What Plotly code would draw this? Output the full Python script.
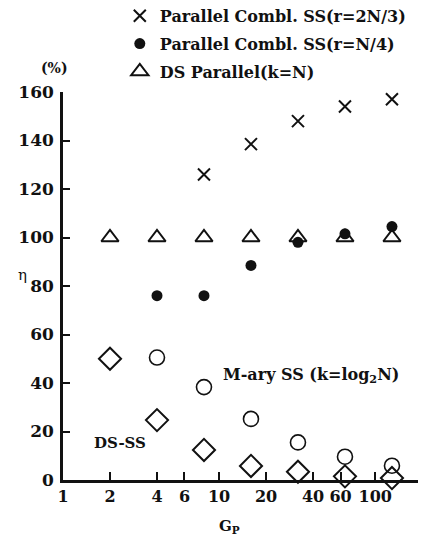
import plotly.graph_objects as go

# x positions (processing gain Gp)
gp_x = [8, 16, 32, 64, 128]
par_23 = [126, 138.5, 148, 154, 157]          # × Parallel Combl. SS(r=2N/3)

gp_dot = [4, 8, 16, 32, 64, 128]
par_14 = [76, 76, 88.5, 98, 101.5, 104.5]     # ● Parallel Combl. SS(r=N/4)

gp_tri = [2, 4, 8, 16, 32, 64, 128]
ds_par = [100, 100, 100, 100, 100, 100, 100]  # △ DS Parallel(k=N)

gp_mary = [4, 8, 16, 32, 64, 128]
mary = [50.5, 38.3, 25.2, 15.5, 9.6, 5.9]      # ○ M-ary SS

gp_ds = [2, 4, 8, 16, 32, 64, 128]
dsss = [50, 24.7, 12.4, 5.8, 3.4, 1.5, 0.8]    # ◇ DS-SS

x_tickvals = [1, 2, 4, 6, 10, 20, 40, 60, 100]
x_ticktext = ["1", "2", "4", "6", "10", "20", "40", "60", "100"]
y_tickvals = [0, 20, 40, 60, 80, 100, 120, 140, 160]

FONT = "DejaVu Serif"
BLACK = "#111111"

fig = go.Figure()
fig.add_trace(go.Scatter(x=gp_x, y=par_23, mode="markers", name="Parallel Combl. SS(r=2N/3)",
                         legendgroup="a",
                         marker=dict(symbol="x-thin-open", size=12, color=BLACK,
                                     line=dict(width=2, color=BLACK))))
fig.add_trace(go.Scatter(x=gp_dot, y=par_14, mode="markers", name="Parallel Combl. SS(r=N/4)",
                         legendgroup="b",
                         marker=dict(symbol="circle", size=11, color=BLACK)))
fig.add_trace(go.Scatter(x=gp_tri, y=ds_par, mode="markers", name="DS Parallel(k=N)",
                         legendgroup="c",
                         marker=dict(symbol="triangle-up-open", size=15, color=BLACK,
                                     line=dict(width=2, color=BLACK))))
fig.add_trace(go.Scatter(x=gp_mary, y=mary, mode="markers", showlegend=False,
                         marker=dict(symbol="circle-open", size=15, color=BLACK,
                                     line=dict(width=1.6, color=BLACK))))
fig.add_trace(go.Scatter(x=gp_ds, y=dsss, mode="markers", showlegend=False,
                         marker=dict(symbol="diamond-open", size=17, color=BLACK,
                                     line=dict(width=2, color=BLACK))))

fig.update_traces(cliponaxis=False)

fig.update_layout(
    width=425, height=529,
    margin=dict(l=55, r=15, t=84, b=57, autoexpand=False),
    paper_bgcolor="white", plot_bgcolor="white",
    font=dict(family=FONT, size=15, color=BLACK, weight="bold"),
    showlegend=True,
    legend=dict(x=0.16, y=1.24, xanchor="left", yanchor="top",
                traceorder="grouped", tracegroupgap=4,
                font=dict(family=FONT, size=16, color=BLACK, weight="bold"),
                bgcolor="rgba(0,0,0,0)", itemwidth=30),
    xaxis=dict(type="log", range=[0, 2.274], tickvals=x_tickvals, ticktext=x_ticktext,
               ticks="inside", ticklen=8, tickwidth=1.5, tickcolor=BLACK,
               showline=True, linecolor=BLACK, linewidth=2.5,
               showgrid=False, zeroline=False,
               tickfont=dict(family=FONT, size=16, weight="bold")),
    yaxis=dict(range=[0, 160], tickvals=y_tickvals,
               ticks="inside", ticklen=7, tickwidth=1.5, tickcolor=BLACK,
               showline=True, linecolor=BLACK, linewidth=2.5,
               showgrid=False, zeroline=False, ticklabelstandoff=3,
               tickfont=dict(family=FONT, size=17, weight="bold")),
)

fig.add_annotation(text="(%)", xref="paper", yref="paper", x=-0.025, y=1.062,
                   xanchor="center", yanchor="middle", showarrow=False,
                   font=dict(family=FONT, size=14, weight="bold"))
fig.add_annotation(text="η", xref="paper", yref="paper", x=-0.115, y=0.528,
                   xanchor="center", yanchor="middle", showarrow=False,
                   font=dict(family=FONT, size=15, weight="normal"))
fig.add_annotation(text="G<sub>P</sub>", xref="paper", yref="paper", x=0.47, y=-0.12,
                   xanchor="center", yanchor="middle", showarrow=False,
                   font=dict(family=FONT, size=15, weight="bold"))
fig.add_annotation(text="DS-SS", xref="paper", yref="paper", x=0.082, y=0.095,
                   xanchor="left", yanchor="middle", showarrow=False,
                   font=dict(family=FONT, size=15, weight="bold"))
fig.add_annotation(text="M-ary SS (k=log<sub>2</sub>N)", xref="paper", yref="paper", x=0.445, y=0.27,
                   xanchor="left", yanchor="middle", showarrow=False,
                   font=dict(family=FONT, size=16, weight="bold"))

fig.write_html("out.html")
